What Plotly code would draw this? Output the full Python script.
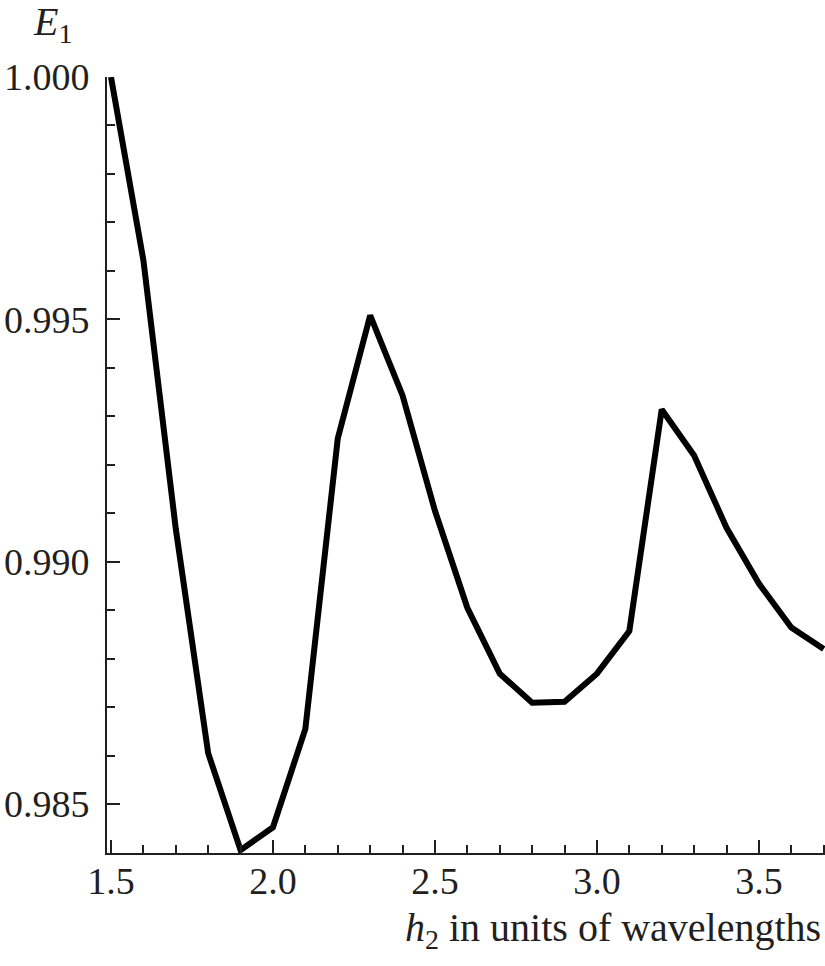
import plotly.graph_objects as go

h2 = [1.5, 1.6, 1.7, 1.8, 1.9, 2.0, 2.1, 2.2, 2.3, 2.4, 2.5, 2.6,
      2.7, 2.8, 2.9, 3.0, 3.1, 3.2, 3.3, 3.4, 3.5, 3.6, 3.7]
E1 = [1.00000, 0.99622, 0.99068, 0.98605, 0.98405, 0.98452, 0.98655,
      0.99254, 0.99508, 0.99343, 0.99105, 0.98905, 0.98769, 0.98709,
      0.98711, 0.98769, 0.98857, 0.99314, 0.99219, 0.99070, 0.98955,
      0.98864, 0.98820]

FONT = "Liberation Serif"
INK = "#231f20"

fig = go.Figure()
fig.add_trace(go.Scatter(x=h2, y=E1, mode="lines",
                         line=dict(color="black", width=6),
                         showlegend=False, hoverinfo="skip"))

W, H = 825, 966
L, R, T, B = 107, 0, 77, 113
pw, ph = W - L - R, H - T - B

axis_common = dict(showgrid=False, zeroline=False, showline=True,
                   linecolor=INK, linewidth=2, ticks="inside",
                   tickcolor=INK, tickwidth=2, ticklen=13,
                   tickfont=dict(family=FONT, size=38, color=INK),
                   mirror=False, automargin=False)

fig.update_xaxes(range=[1.4877, 3.704], tick0=1.5, dtick=0.5,
                 tickformat=".1f", ticklabelstandoff=-7,
                 minor=dict(dtick=0.1, tick0=1.5, ticks="inside",
                            ticklen=8, tickwidth=2, tickcolor=INK),
                 **axis_common)
fig.update_yaxes(range=[0.98399, 1.0], tick0=0.985, dtick=0.005,
                 tickformat=".3f", ticklabelstandoff=8,
                 minor=dict(dtick=0.001, tick0=0.985, ticks="inside",
                            ticklen=8, tickwidth=2, tickcolor=INK),
                 **axis_common)

fig.add_annotation(text="<i>E</i><sub>1</sub>", xref="paper", yref="paper",
                   x=(31 - L) / pw, y=1 + (T - 24) / ph,
                   xanchor="left", yanchor="middle", showarrow=False,
                   font=dict(family=FONT, size=40, color=INK))
fig.add_annotation(text="<i>h</i><sub>2</sub> in units of wavelengths",
                   xref="paper", yref="paper",
                   x=(823 - L) / pw, y=-(930 - (T + ph)) / ph,
                   xanchor="right", yanchor="middle", showarrow=False,
                   font=dict(family=FONT, size=40, color=INK))

fig.update_layout(width=W, height=H,
                  margin=dict(l=L, r=R, t=T, b=B, pad=0),
                  plot_bgcolor="white", paper_bgcolor="white")

fig.write_html("out.html", config={"displayModeBar": False},
               post_script="document.body.style.margin='0';"
                           "document.body.style.overflow='hidden';")
